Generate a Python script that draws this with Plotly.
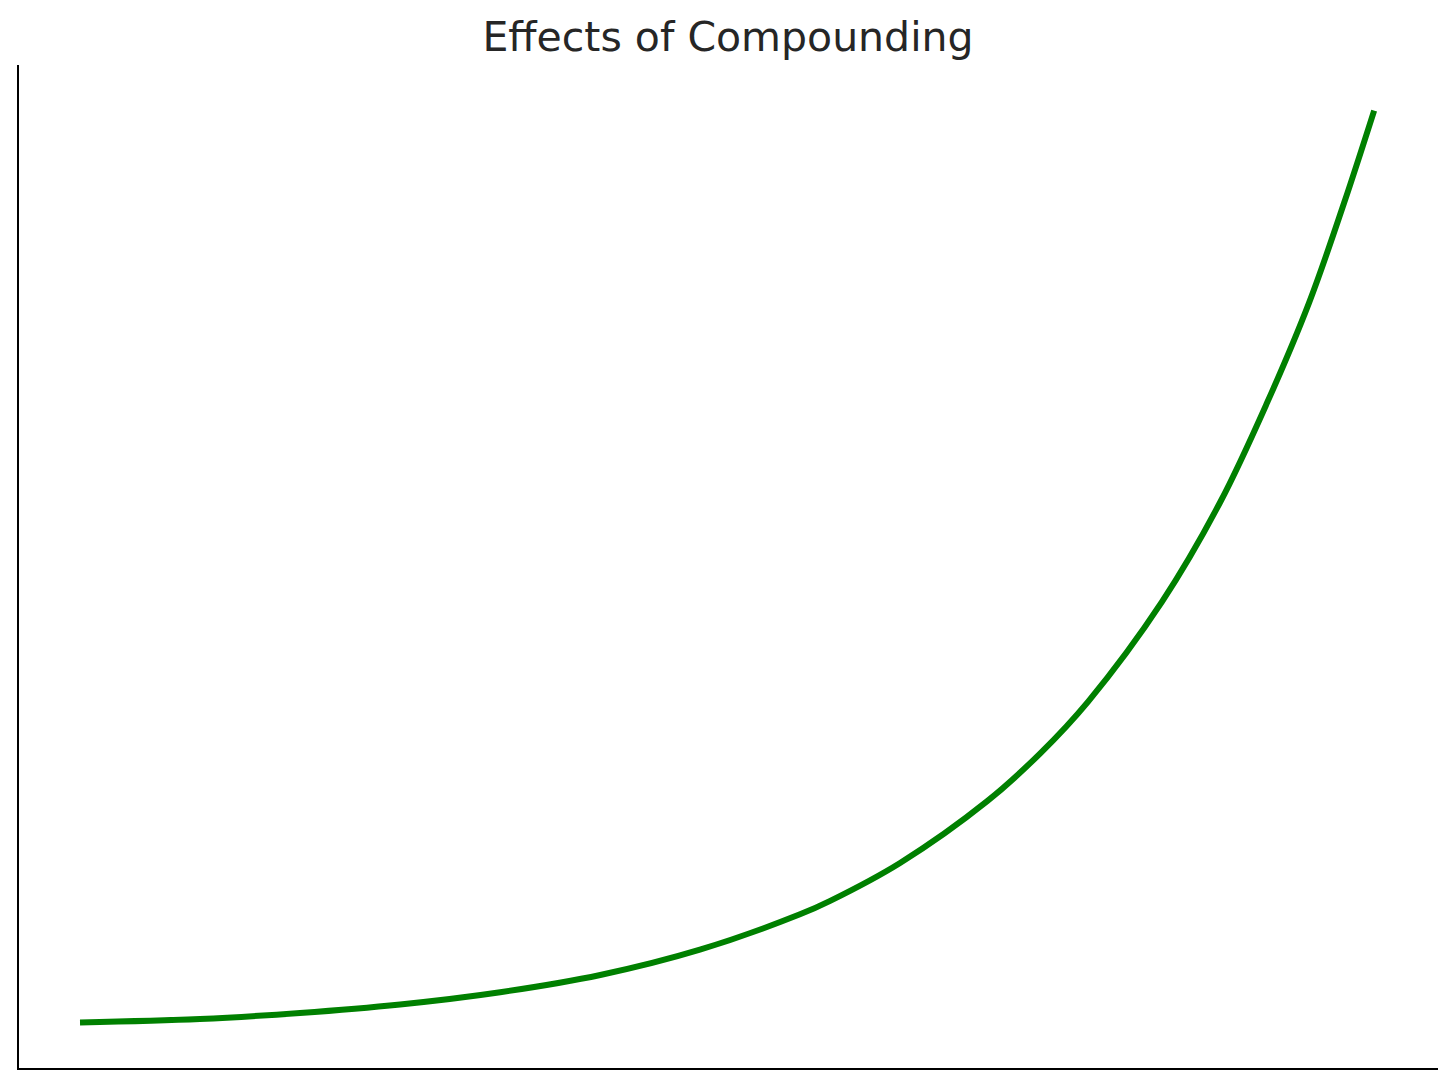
import plotly.graph_objects as go

# Years (x) and value (arbitrary units)
years = [0, 2.78, 5.10, 7.42, 9.74, 12.06, 14.37, 16.69, 17.39, 19.01,
         21.03, 22.26, 23.37, 25.08, 26.43, 27.52, 28.49, 29.30, 30.0]
values = [10.0, 10.34, 10.93, 11.77, 12.98, 14.68, 17.18, 20.67, 22.0, 25.74,
          31.84, 36.56, 41.67, 51.51, 61.34, 71.18, 81.02, 90.85, 100.0]

title_text = "Effects of Compounding"

fig = go.Figure()
fig.add_trace(go.Scatter(
    x=years, y=values, mode="lines",
    line=dict(color="#008000", width=6, shape="spline", smoothing=1.0),
    showlegend=False, hoverinfo="skip",
))

fig.update_layout(
    width=1440, height=1071,
    paper_bgcolor="white", plot_bgcolor="white",
    margin=dict(l=11, r=10, t=57, b=11),
    title=dict(text=title_text, x=0.5, xanchor="center", y=0.973, yanchor="middle",
               font=dict(family="DejaVu Sans", size=41, color="#262626")),
    xaxis=dict(range=[-1.414, 31.48], showgrid=False, zeroline=False,
               showticklabels=False, ticks="", showline=True,
               linecolor="black", linewidth=1.8, mirror=False),
    yaxis=dict(range=[5.5, 104.5], showgrid=False, zeroline=False,
               showticklabels=False, ticks="", showline=True,
               linecolor="black", linewidth=1.8, mirror=False),
)

fig.write_html("out.html")
